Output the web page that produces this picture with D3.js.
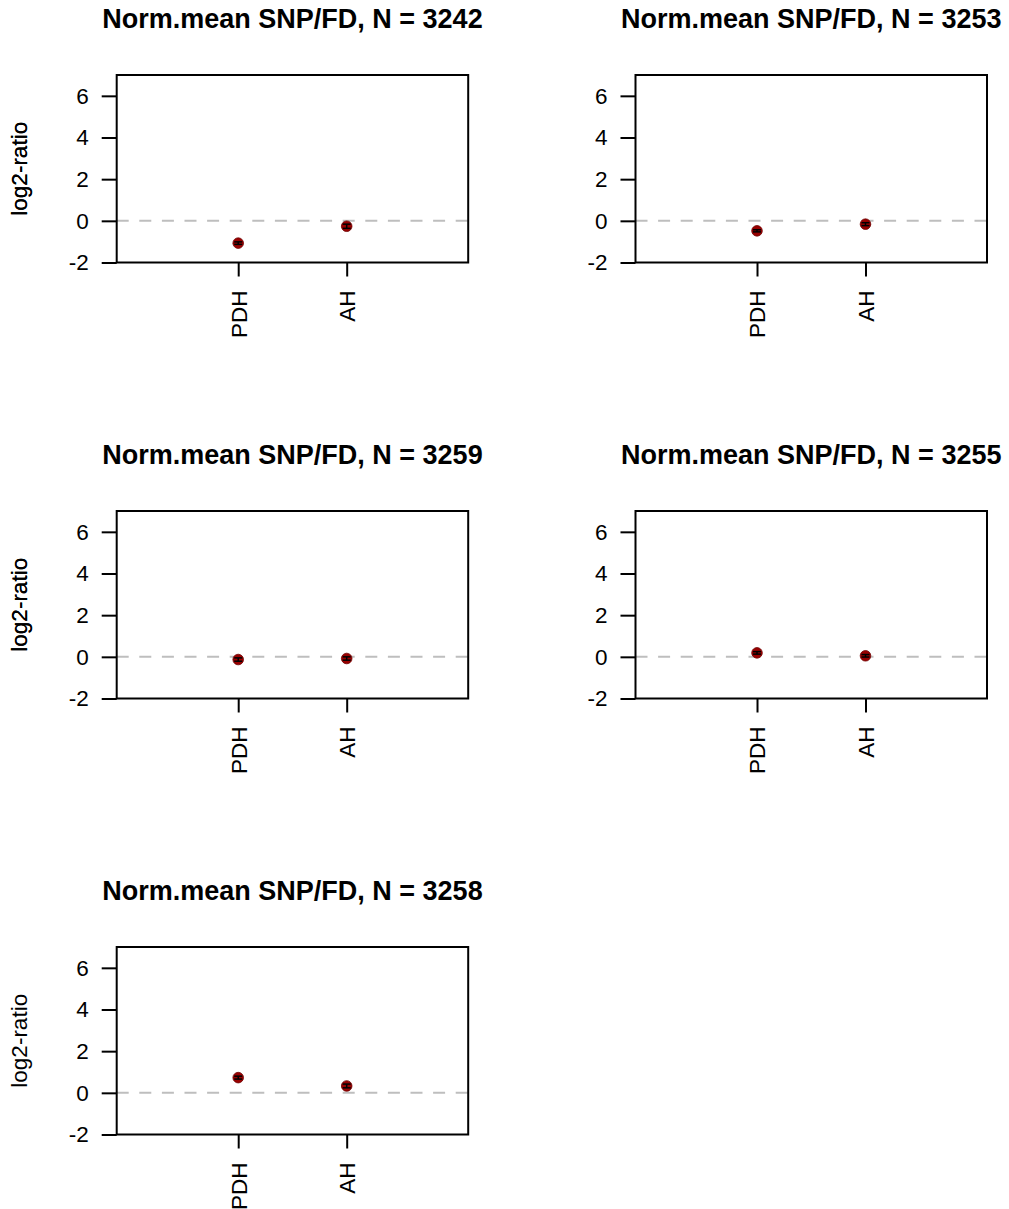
<!DOCTYPE html>
<html>
<head>
<meta charset="utf-8">
<script src="https://cdn.jsdelivr.net/npm/d3@7"></script>
<style>
  body { margin: 0; background: #fff; }
  text { font-family: "Liberation Sans", Arial, Helvetica, sans-serif; }
</style>
</head>
<body>
<div id="chart"></div>
<script>
// values
const categories = ["PDH", "AH"];
const panelN = [3242, 3253, 3259, 3255, 3258];
const pdhMean = [-1.07, -0.48, -0.13, 0.19, 0.73];
const ahMean = [-0.26, -0.16, -0.08, 0.05, 0.33];
const pdhErr = [0.06, 0.05, 0.08, 0.06, 0.07];
const ahErr = [0.1, 0.07, 0.08, 0.06, 0.09];
const yTicks = [-2, 0, 2, 4, 6];

let width = 1009, height = 1209;
let plotW = 351.5, plotH = 187.5;
let colX = [116.7, 635.5];
let rowY = [75, 511, 947];

let x = d3.scaleLinear().domain([-0.12, 3.12]).range([0, plotW]);
let y = d3.scaleLinear().domain([-2, 7]).range([plotH, 0]);

let svg = d3.select("#chart").append("svg")
    .attr("width", width)
    .attr("height", height);

panelN.forEach((n, i) => {
    let g = svg.append("g")
        .attr("transform", "translate(" + colX[i % 2] + "," + rowY[Math.floor(i / 2)] + ")");

    let pts = categories.map((c, j) => ({
        pos: j + 1,
        mean: j === 0 ? pdhMean[i] : ahMean[i],
        err: j === 0 ? pdhErr[i] : ahErr[i]
    }));

    // title
    g.append("text")
        .attr("x", plotW / 2)
        .attr("y", -47)
        .attr("text-anchor", "middle")
        .style("font-size", "27px")
        .style("font-weight", "bold")
        .text("Norm.mean SNP/FD, N = " + n);

    // zero line
    g.append("line")
        .attr("x1", 0).attr("x2", plotW)
        .attr("y1", y(0)).attr("y2", y(0))
        .attr("stroke", "#bebebe")
        .attr("stroke-width", 2)
        .attr("stroke-dasharray", "12,10.6");

    // y axis
    let yAxisG = g.append("g")
        .call(d3.axisLeft(y).tickValues(yTicks).tickSize(15).tickPadding(13));
    yAxisG.select(".domain").remove();
    yAxisG.selectAll("line").attr("stroke", "#000").attr("stroke-width", 2);
    yAxisG.selectAll("text")
        .attr("fill", "#000")
        .style("font-size", "22.5px")
        .text(d => d < 0 ? "-" + Math.abs(d) : d);

    // x axis
    let xAxisG = g.append("g")
        .attr("transform", "translate(0," + plotH + ")")
        .call(d3.axisBottom(x).tickValues([1, 2]).tickFormat(d => categories[d - 1]).tickSize(14));
    xAxisG.select(".domain").remove();
    xAxisG.selectAll("line").attr("stroke", "#000").attr("stroke-width", 2);
    xAxisG.selectAll("text")
        .attr("fill", "#000")
        .style("font-size", "22.5px")
        .attr("transform", "rotate(-90)")
        .attr("text-anchor", "end")
        .attr("x", -28)
        .attr("y", 0)
        .attr("dy", "0.35em");

    // y label
    g.append("text")
        .attr("transform", "translate(" + (19 - colX[i % 2]) + "," + plotH / 2 + ") rotate(-90)")
        .attr("text-anchor", "middle")
        .attr("dy", "0.35em")
        .style("font-size", "22.5px")
        .text("log2-ratio");

    // box
    g.append("rect")
        .attr("width", plotW)
        .attr("height", plotH)
        .attr("fill", "none")
        .attr("stroke", "#000")
        .attr("stroke-width", 2);

    // points
    g.selectAll(".pt")
        .data(pts)
        .enter().append("circle")
        .attr("class", "pt")
        .attr("cx", d => x(d.pos))
        .attr("cy", d => y(d.mean))
        .attr("r", 5.3)
        .attr("fill", "#990000")
        .attr("stroke", "#6e0000")
        .attr("stroke-width", 0.8);

    // error bars
    let eb = g.selectAll(".eb")
        .data(pts)
        .enter().append("g")
        .attr("class", "eb");
    eb.append("line")
        .attr("x1", d => x(d.pos)).attr("x2", d => x(d.pos))
        .attr("y1", d => y(d.mean - d.err)).attr("y2", d => y(d.mean + d.err))
        .attr("stroke", "#000").attr("stroke-width", 1.5);
    [-1, 1].forEach(s => {
        eb.append("line")
            .attr("x1", d => x(d.pos) - 4).attr("x2", d => x(d.pos) + 4)
            .attr("y1", d => y(d.mean + s * d.err)).attr("y2", d => y(d.mean + s * d.err))
            .attr("stroke", "#000").attr("stroke-width", 1.5);
    });
});
</script>
</body>
</html>
